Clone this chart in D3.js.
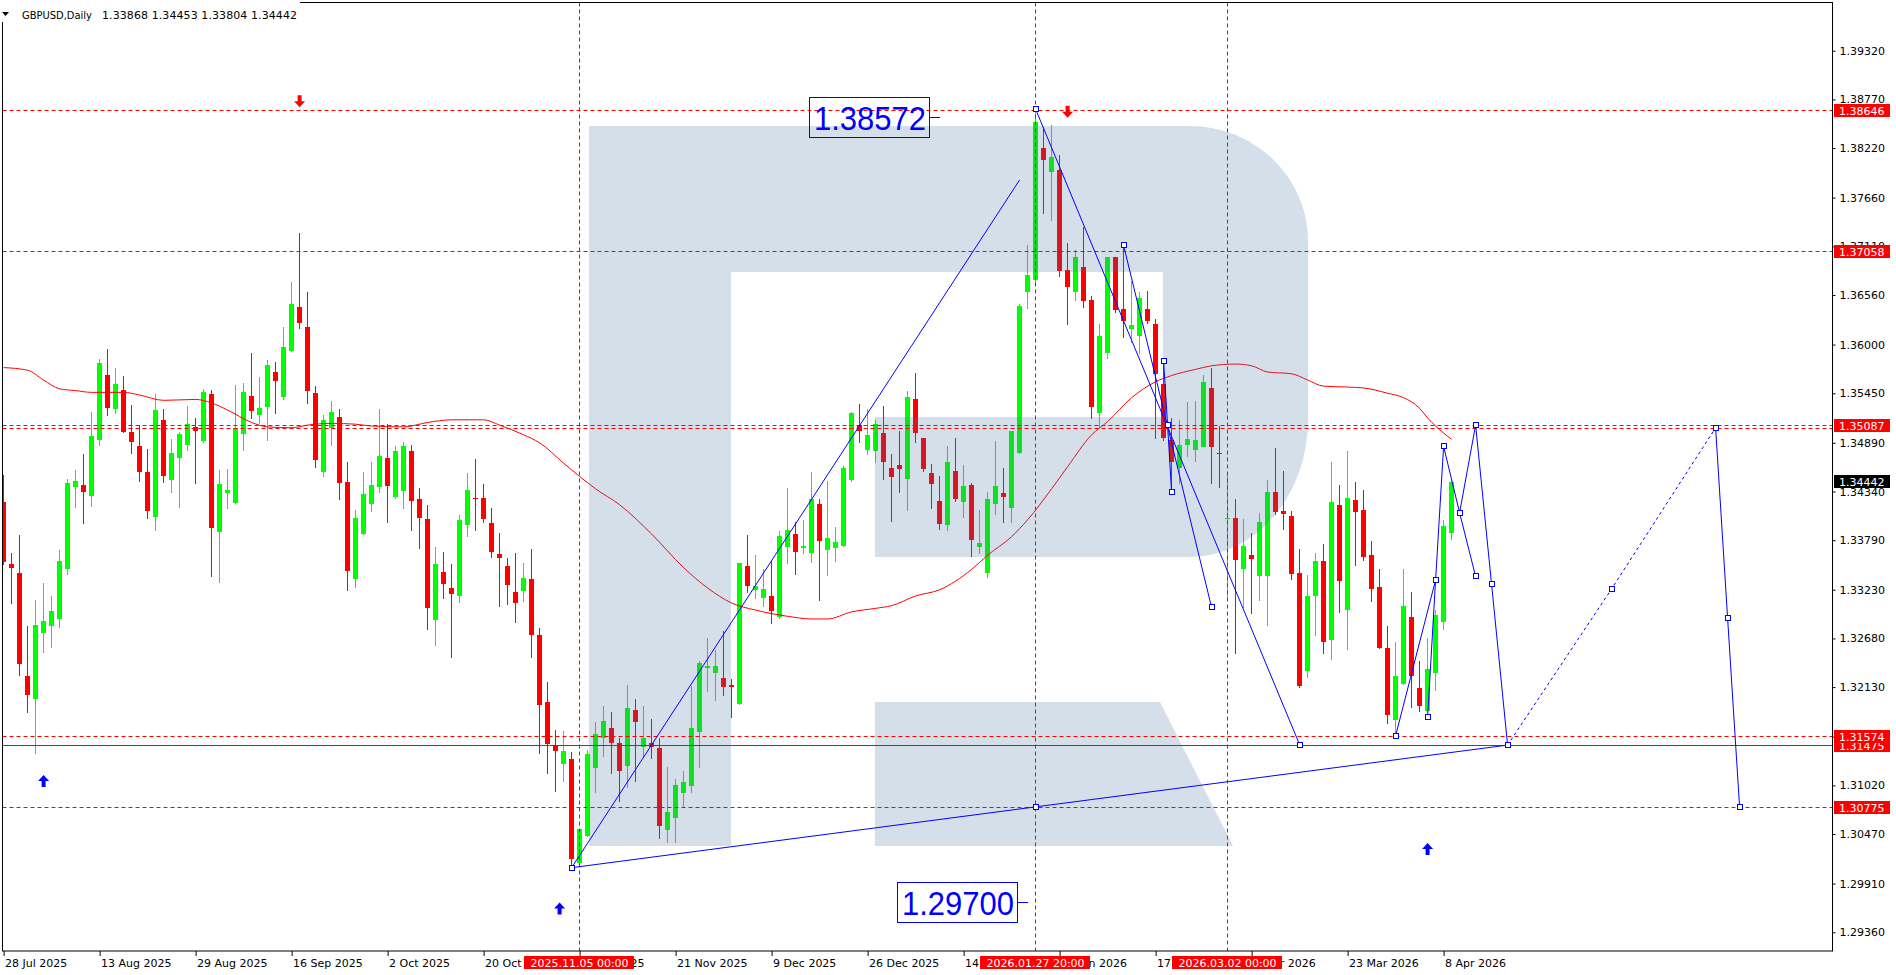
<!DOCTYPE html>
<html>
<head>
<meta charset="utf-8">
<script src="https://cdn.jsdelivr.net/npm/d3@7"></script>
<style>
  html, body { margin: 0; padding: 0; background: #fff; overflow: hidden; }
  svg text { font-family: "DejaVu Sans", sans-serif; font-size: 11px; }
</style>
</head>
<body>
<div id="chart"></div>
<script>
// GBPUSD daily candles, bar 0 = 28 Jul 2025 ... bar 181 = last bar
var open = [
  1.3422,1.3352,1.3342,1.3225,1.3199,1.3274,1.3282,1.3290,1.3347,1.3439,
  1.3441,1.3429,1.3492,1.3566,1.3528,1.3549,1.3501,1.3485,1.3456,1.3405,
  1.3515,1.3447,1.3472,1.3486,1.3507,1.3491,1.3544,1.3388,1.3433,1.3421,
  1.3498,1.3542,1.3520,1.3529,1.3569,1.3541,1.3593,1.3643,1.3620,1.3545,
  1.3456,1.3506,1.3518,1.3445,1.3335,1.3386,1.3420,1.3439,1.3472,1.3428,
  1.3434,1.3480,1.3425,1.3403,1.3289,1.3343,1.3325,1.3316,1.3396,1.3427,
  1.3427,1.3398,1.3363,1.3350,1.3320,1.3321,1.3335,1.3272,1.3196,1.3147,
  1.3126,1.3132,1.3015,1.3045,1.3122,1.3156,1.3167,1.3150,1.3124,1.3187,
  1.3146,1.3150,1.3144,1.3052,1.3065,1.3094,1.3102,1.3162,1.3235,1.3229,
  1.3223,1.3215,1.3194,1.3350,1.3322,1.3314,1.3316,1.3292,1.3372,1.3386,
  1.3370,1.3365,1.3420,1.3369,1.3370,1.3372,1.3447,1.3509,1.3481,1.3480,
  1.3500,1.3460,1.3464,1.3448,1.3539,1.3494,1.3455,1.3423,1.3396,1.3457,
  1.3422,1.3441,1.3371,1.3341,1.3420,1.3432,1.3415,1.3478,1.3660,1.3673,
  1.3822,1.3795,1.3797,1.3684,1.3660,1.3688,1.3650,1.3523,1.3590,1.3699,
  1.3640,1.3617,1.3610,1.3640,1.3623,1.3555,1.3492,1.3460,1.3486,1.3481,
  1.3485,1.3551,1.3477,1.3403,1.3404,1.3346,1.3362,1.3338,1.3338,1.3434,
  1.3412,1.3406,1.3342,1.3231,1.3317,1.3356,1.3266,1.3419,1.3300,1.3424,
  1.3413,1.3362,1.3326,1.3257,1.3175,1.3217,1.3292,1.3212,1.3187,1.3229,
  1.3287,1.33868
];
var high = [
  1.3453,1.3364,1.3385,1.3282,1.3311,1.3331,1.3316,1.3368,1.3448,1.3458,
  1.3476,1.3524,1.3584,1.3595,1.3574,1.3564,1.3532,1.3509,1.3482,1.3544,
  1.3527,1.3493,1.3501,1.3531,1.3517,1.3550,1.3549,1.3458,1.3459,1.3554,
  1.3557,1.3591,1.3563,1.3582,1.3580,1.3620,1.3671,1.3726,1.3659,1.3553,
  1.3520,1.3536,1.3527,1.3467,1.3413,1.3456,1.3467,1.3527,1.3510,1.3485,
  1.3490,1.3486,1.3438,1.3419,1.3371,1.3366,1.3352,1.3407,1.3455,1.3471,
  1.3442,1.3415,1.3387,1.3359,1.3364,1.3353,1.3369,1.3280,1.3219,1.3164,
  1.3163,1.3140,1.3053,1.3142,1.3174,1.3192,1.3185,1.3155,1.3215,1.3200,
  1.3192,1.3177,1.3155,1.3123,1.3109,1.3118,1.3214,1.3243,1.3269,1.3255,
  1.3276,1.3222,1.3353,1.3385,1.3362,1.3346,1.3356,1.3389,1.3438,1.3399,
  1.3402,1.3456,1.3426,1.3446,1.3394,1.3463,1.3524,1.3533,1.3527,1.3515,
  1.3531,1.3476,1.3502,1.3548,1.3568,1.3494,1.3465,1.3451,1.3485,1.3494,
  1.3464,1.3444,1.3413,1.3434,1.3491,1.3460,1.3502,1.3646,1.3713,1.3866,
  1.3846,1.3848,1.3814,1.3715,1.3707,1.3733,1.3655,1.3623,1.3699,1.3699,
  1.3711,1.3672,1.3659,1.3661,1.3629,1.3582,1.3517,1.3515,1.3535,1.3536,
  1.3566,1.3574,1.3508,1.3456,1.3425,1.3403,1.3387,1.3410,1.3447,1.3483,
  1.3457,1.3412,1.3369,1.3340,1.3365,1.3375,1.3467,1.3441,1.3480,1.3445,
  1.3436,1.3378,1.3347,1.3282,1.3264,1.3346,1.3320,1.3242,1.3268,1.3300,
  1.3402,1.34453
];
var low = [
  1.3352,1.3308,1.3227,1.3185,1.3139,1.3253,1.3258,1.3281,1.3341,1.3417,
  1.3398,1.3418,1.3487,1.3520,1.3523,1.3501,1.3477,1.3446,1.3404,1.3390,
  1.3445,1.3433,1.3416,1.3481,1.3444,1.3490,1.3339,1.3332,1.3415,1.3421,
  1.3481,1.3517,1.3511,1.3492,1.3523,1.3538,1.3593,1.3619,1.3534,1.3462,
  1.3451,1.3486,1.3426,1.3323,1.3326,1.3386,1.3412,1.3433,1.3399,1.3427,
  1.3415,1.3390,1.3370,1.3279,1.3261,1.3314,1.3247,1.3309,1.3384,1.3390,
  1.3399,1.3360,1.3305,1.3307,1.3287,1.3310,1.3247,1.3139,1.3116,1.3096,
  1.3107,1.3009,1.3014,1.3045,1.3094,1.3135,1.3116,1.3084,1.3100,1.3107,
  1.3134,1.3133,1.3043,1.3038,1.3038,1.3079,1.3095,1.3123,1.3209,1.3199,
  1.3204,1.3179,1.3194,1.3321,1.3314,1.3305,1.3286,1.3291,1.3353,1.3341,
  1.3364,1.3354,1.3311,1.3340,1.3356,1.3372,1.3446,1.3490,1.3476,1.3467,
  1.3448,1.3401,1.3434,1.3413,1.3490,1.3457,1.3415,1.3392,1.3390,1.3423,
  1.3405,1.3361,1.3365,1.3337,1.3409,1.3400,1.3399,1.3478,1.3641,1.3667,
  1.3749,1.3741,1.3677,1.3623,1.3650,1.3642,1.3517,1.3507,1.3585,1.3637,
  1.3609,1.3603,1.3590,1.3624,1.3494,1.3492,1.3433,1.3444,1.3474,1.3469,
  1.3485,1.3444,1.3439,1.3315,1.3252,1.3304,1.3297,1.3311,1.3283,1.3409,
  1.3392,1.3335,1.3213,1.3224,1.3272,1.3252,1.3245,1.3298,1.3256,1.3351,
  1.3357,1.3310,1.3257,1.3173,1.3159,1.3217,1.3191,1.3186,1.3186,1.3210,
  1.3279,1.33804
];
var close = [
  1.3354,1.3348,1.3239,1.3204,1.3283,1.3288,1.3299,1.3355,1.3444,1.3446,
  1.3433,1.3497,1.3579,1.3529,1.3556,1.3501,1.3490,1.3456,1.3412,1.3526,
  1.3452,1.3477,1.3499,1.3510,1.3502,1.3546,1.3393,1.3442,1.3436,1.3506,
  1.3546,1.3525,1.3528,1.3577,1.3559,1.3597,1.3646,1.3625,1.3548,1.3469,
  1.3515,1.3524,1.3444,1.3344,1.3404,1.3431,1.3441,1.3474,1.3440,1.3480,
  1.3485,1.3424,1.3403,1.3303,1.3352,1.3330,1.3318,1.3402,1.3436,1.3426,
  1.3403,1.3365,1.3358,1.3328,1.3308,1.3336,1.3272,1.3193,1.3149,1.3141,
  1.3141,1.3019,1.3053,1.3138,1.3160,1.3175,1.3150,1.3118,1.3189,1.3174,
  1.3156,1.3146,1.3056,1.3072,1.3102,1.3106,1.3167,1.3240,1.3237,1.3237,
  1.3213,1.3213,1.3353,1.3327,1.3327,1.3324,1.3299,1.3384,1.3391,1.3366,
  1.3372,1.3426,1.3378,1.3382,1.3377,1.3460,1.3523,1.3502,1.3498,1.3510,
  1.3467,1.3450,1.3460,1.3541,1.3501,1.3459,1.3443,1.3397,1.3467,1.3425,
  1.3440,1.3379,1.3376,1.3425,1.3440,1.3428,1.3502,1.3644,1.3679,1.3852,
  1.3809,1.3812,1.3683,1.3665,1.3699,1.3650,1.3529,1.3610,1.3699,1.3639,
  1.3626,1.3622,1.3653,1.3626,1.3567,1.3494,1.3467,1.3486,1.3493,1.3492,
  1.3558,1.3484,1.3476,1.3404,1.3356,1.3372,1.3358,1.3399,1.3433,1.3411,
  1.3409,1.3341,1.3214,1.3316,1.3356,1.3265,1.3422,1.3333,1.3427,1.3411,
  1.3360,1.3324,1.3257,1.3181,1.3225,1.3305,1.3225,1.3192,1.3234,1.3294,
  1.3395,1.34442
];

// moving average at these bars
var maBar = [0,3,5,7,9,11,15,17,20,24,26,28,31,33,36,38,41,44,46,50,53,56,60,62,65,67,70,72,74,77,
  81,85,88,91,94,98,101,103,106,109,111,114,117,121,123,126,128,131,133,136,138,141,144,146,149,
  151,154,156,158,161,163,165,168,170,173,175,177,178,179,180,181];
var maVal = [1.3574,1.3571,1.3560,1.3550,1.3548,1.3546,1.3546,1.3543,1.3537,1.3538,1.3534,1.3526,1.3512,1.3507,1.3506,
  1.3509,1.3511,1.3510,1.3508,1.3507,1.3512,1.3515,1.3515,1.3509,1.3498,1.3489,1.3466,1.3451,1.3437,1.3419,
  1.3386,1.3348,1.3325,1.3308,1.3300,1.3293,1.3290,1.3290,1.3298,1.3302,1.3305,1.3316,1.3323,1.3346,1.3362,
  1.3383,1.3402,1.3437,1.3462,1.3498,1.3513,1.3540,1.3558,1.3565,1.3572,1.3576,1.3578,1.3576,1.3569,1.3567,
  1.3560,1.3553,1.3552,1.3551,1.3545,1.3540,1.3528,1.3517,1.3508,1.3500,1.3493];

// time axis
var timeTickBars = [0,12,24,36,48,60,72,84,96,108,120,132,144,156,168,180];
var timeTickLabels = ["28 Jul 2025","13 Aug 2025","29 Aug 2025","16 Sep 2025","2 Oct 2025","20 Oct 2025",
  "5 Nov 2025","21 Nov 2025","9 Dec 2025","26 Dec 2025","14 Jan 2026","30 Jan 2026","17 Feb 2026",
  "5 Mar 2026","23 Mar 2026","8 Apr 2026"];

// price axis
var priceTicks = [1.39320,1.38770,1.38220,1.37660,1.37110,1.36560,1.36000,1.35450,1.34890,1.34340,
  1.33790,1.33230,1.32680,1.32130,1.31570,1.31020,1.30470,1.29910,1.29360];

// horizontal levels
var dottedLevels = [1.38646, 1.37058, 1.35087, 1.35057, 1.31574, 1.30775];
var solidLevels = [1.31475];
var levelLabels = [1.38646, 1.37058, 1.35087, 1.31475, 1.31574, 1.30775];
var lastPrice = 1.34442;

// vertical lines
var vlineBars = [72, 129, 153];
var vlineLabels = ["2025.11.05 00:00", "2026.01.27 20:00", "2026.03.02 00:00"];

// forecast lines [bar, price]
var trend1 = [[71, 1.3009], [127, 1.3786]];
var trend2 = [[71, 1.3009], [129, 1.30777], [188, 1.31475]];
var trend3 = [[129, 1.3866], [162, 1.3148]];
var trend4 = [[140, 1.3712], [151, 1.3303]];
var trend5 = [[145, 1.3581], [145.5, 1.3509], [146, 1.3433]];
var trend6 = [[174, 1.3158], [179, 1.3334], [180, 1.3485], [182, 1.3410], [184, 1.3338]];
var trend7 = [[178, 1.3179], [179, 1.3334]];
var trend8 = [[182, 1.3410], [184, 1.3509], [186, 1.3329], [188, 1.31475]];
var trend9 = [[188, 1.31475], [201, 1.3324], [214, 1.3506]];
var trend10 = [[214, 1.3506], [215.5, 1.3291], [217, 1.30775]];

// arrows [bar, price]
var downArrows = [[37, 1.3875], [133, 1.3863]];
var upArrows = [[5, 1.3107], [69.5, 1.2963], [178, 1.3030]];

// price tags [anchor bar, price, text]
var priceTags = [[117, 1.38572, "1.38572"], [128, 1.29700, "1.29700"]];

var header = "GBPUSD,Daily";
var headerValues = "1.33868 1.34453 1.33804 1.34442";

var width = 1896, height = 975;
var plotL = 2.5, plotR = 1832.5, plotT = 2.5, plotB = 951;

var x = d3.scaleLinear().domain([0, 1]).range([3.6, 11.6]);
var y = d3.scaleLinear().domain([1.29360, 1.39320]).range([932.3, 50.7]);

var bull = "#00ff00", bear = "#ff0000", blue = "#0000ff";

var svg = d3.select("#chart").append("svg")
  .attr("width", width)
  .attr("height", height)
  .style("display", "block");

svg.append("defs").append("clipPath").attr("id", "plotclip")
  .append("rect")
  .attr("x", plotL).attr("y", plotT)
  .attr("width", plotR - plotL).attr("height", plotB - plotT);

var plot = svg.append("g").attr("clip-path", "url(#plotclip)");

// candles
var candle = plot.append("g").selectAll("g")
  .data(d3.range(close.length))
  .enter().append("g");

candle.append("line")
  .attr("x1", function(i) { return Math.floor(x(i)) + 0.5; })
  .attr("x2", function(i) { return Math.floor(x(i)) + 0.5; })
  .attr("y1", function(i) { return Math.round(y(high[i])); })
  .attr("y2", function(i) { return Math.round(y(low[i])) + 1; })
  .attr("stroke", function(i) { return close[i] >= open[i] ? bull : bear; });

candle.append("rect")
  .attr("x", function(i) { return Math.floor(x(i)) - 2; })
  .attr("width", 5)
  .attr("y", function(i) { return Math.round(y(Math.max(open[i], close[i]))); })
  .attr("height", function(i) { return Math.max(1, Math.round(Math.abs(y(open[i]) - y(close[i])))); })
  .attr("fill", function(i) { return close[i] >= open[i] ? bull : bear; });

// moving average
plot.append("path")
  .datum(d3.range(maBar.length))
  .attr("fill", "none")
  .attr("stroke", "#ff0000")
  .attr("stroke-width", 1)
  .attr("d", d3.line()
    .x(function(k) { return x(maBar[k]); })
    .y(function(k) { return y(maVal[k]); })
    .curve(d3.curveMonotoneX));

// watermark logo, drawn over the candles with some transparency
var logo = plot.append("g").attr("fill", "rgb(62,112,161)").attr("fill-opacity", 0.224);
logo.append("path")
  .attr("d", "M589,126 H1190 A118,115 0 0 1 1308,241 V420 A118,137 0 0 1 1190,557 H875 V417 H1163 V272 H731 V846 H589 Z");
logo.append("path")
  .attr("d", "M875,702 H1160 L1233,846 H875 Z");

// horizontal levels
plot.selectAll("line.dl")
  .data(dottedLevels)
  .enter().append("line")
  .attr("x1", plotL).attr("x2", plotR)
  .attr("y1", function(d) { return Math.round(y(d)) + 0.5; })
  .attr("y2", function(d) { return Math.round(y(d)) + 0.5; })
  .attr("stroke", "#ff0000")
  .attr("stroke-dasharray", "4,3");

plot.selectAll("line.sl")
  .data(solidLevels)
  .enter().append("line")
  .attr("x1", plotL).attr("x2", plotR)
  .attr("y1", function(d) { return Math.round(y(d)) + 0.5; })
  .attr("y2", function(d) { return Math.round(y(d)) + 0.5; })
  .attr("stroke", "#ff0000");

// vertical lines
plot.selectAll("line.vl")
  .data(vlineBars)
  .enter().append("line")
  .attr("x1", function(d) { return Math.floor(x(d)) + 0.5; })
  .attr("x2", function(d) { return Math.floor(x(d)) + 0.5; })
  .attr("y1", plotT).attr("y2", plotB)
  .attr("stroke", "#ff0000")
  .attr("stroke-dasharray", "4,3");

// forecast lines
var pline = d3.line()
  .x(function(p) { return x(p[0]); })
  .y(function(p) { return y(p[1]); });

var trends = [trend1, trend2, trend3, trend4, trend5, trend6, trend7, trend8, trend9, trend10];
var dashed = [false, false, false, false, false, false, false, false, true, false];

trends.forEach(function(t, k) {
  plot.append("path")
    .attr("d", pline(t))
    .attr("fill", "none")
    .attr("stroke", blue)
    .attr("stroke-width", 1)
    .attr("stroke-dasharray", dashed[k] ? "3,3" : null);
});

// anchor squares (trend1 has none at its upper end)
var squarePts = [];
trends.forEach(function(t, k) {
  t.forEach(function(p, j) {
    if (k === 0 && j === 1) return;
    squarePts.push(p);
  });
});
plot.selectAll("rect.sq")
  .data(squarePts)
  .enter().append("rect")
  .attr("x", function(p) { return Math.round(x(p[0])) - 2.5; })
  .attr("y", function(p) { return Math.round(y(p[1])) - 2.5; })
  .attr("width", 5).attr("height", 5)
  .attr("fill", "#fff")
  .attr("stroke", blue);

// arrows
function arrowPath(cx, cy, dir) {
  // dir = 1 points down, -1 points up
  var s = dir;
  return "M" + (cx - 2) + "," + (cy - 6 * s) +
    " L" + (cx + 2) + "," + (cy - 6 * s) +
    " L" + (cx + 2) + "," + (cy) +
    " L" + (cx + 5.5) + "," + (cy) +
    " L" + cx + "," + (cy + 6 * s) +
    " L" + (cx - 5.5) + "," + (cy) +
    " L" + (cx - 2) + "," + (cy) + " Z";
}
plot.selectAll("path.da")
  .data(downArrows)
  .enter().append("path")
  .attr("d", function(a) { return arrowPath(x(a[0]), y(a[1]), 1); })
  .attr("fill", "#ff0000");
plot.selectAll("path.ua")
  .data(upArrows)
  .enter().append("path")
  .attr("d", function(a) { return arrowPath(x(a[0]), y(a[1]), -1); })
  .attr("fill", blue);

// price tags
var tag = plot.selectAll("g.tag")
  .data(priceTags)
  .enter().append("g");
tag.append("rect")
  .attr("x", function(t) { return Math.round(x(t[0])) - 130.5; })
  .attr("y", function(t) { return Math.round(y(t[1])) - 19.5; })
  .attr("width", 120).attr("height", 40)
  .attr("fill", "none")
  .attr("stroke", blue);
tag.append("line")
  .attr("x1", function(t) { return Math.round(x(t[0])) - 10; })
  .attr("x2", function(t) { return Math.round(x(t[0])); })
  .attr("y1", function(t) { return Math.round(y(t[1])) + 0.5; })
  .attr("y2", function(t) { return Math.round(y(t[1])) + 0.5; })
  .attr("stroke", blue);
tag.append("text")
  .attr("x", function(t) { return Math.round(x(t[0])) - 126; })
  .attr("y", function(t) { return Math.round(y(t[1])) + 13; })
  .attr("textLength", 112)
  .attr("lengthAdjust", "spacingAndGlyphs")
  .style("font-family", "'Liberation Sans', Arial, sans-serif")
  .style("font-size", "34px")
  .attr("fill", blue)
  .text(function(t) { return t[2]; });

// frame
svg.append("rect")
  .attr("x", plotL).attr("y", plotT)
  .attr("width", plotR - plotL).attr("height", plotB - plotT)
  .attr("fill", "none")
  .attr("stroke", "#000");

// price axis
var yAxis = d3.axisRight(y)
  .tickValues(priceTicks)
  .tickSize(3)
  .tickPadding(4)
  .tickFormat(d3.format(".5f"));
var yg = svg.append("g")
  .attr("transform", "translate(" + plotR + ",0)")
  .call(yAxis);
yg.select(".domain").remove();
yg.selectAll("text").attr("fill", "#000").style("font-family", "'DejaVu Sans', sans-serif").style("font-size", "11px");
yg.selectAll("line").attr("stroke", "#000");

// level tags on the price axis
var lt = svg.selectAll("g.lt")
  .data(levelLabels)
  .enter().append("g");
lt.append("rect")
  .attr("x", 1834).attr("width", 56)
  .attr("y", function(d) { return Math.round(y(d)) - 6; })
  .attr("height", 13)
  .attr("fill", "#ff0000");
lt.append("text")
  .attr("x", 1839)
  .attr("y", function(d) { return Math.round(y(d)) + 4.5; })
  .attr("fill", "#fff")
  .text(function(d) { return d.toFixed(5); });

svg.append("rect")
  .attr("x", 1834).attr("width", 56)
  .attr("y", Math.round(y(lastPrice)) - 7)
  .attr("height", 13)
  .attr("fill", "#000");
svg.append("text")
  .attr("x", 1839)
  .attr("y", Math.round(y(lastPrice)) + 3.5)
  .attr("fill", "#fff")
  .text(lastPrice.toFixed(5));

// time axis
var xAxis = d3.axisBottom(x)
  .tickValues(timeTickBars)
  .tickSize(5)
  .tickPadding(3)
  .tickFormat(function(d, i) { return timeTickLabels[i]; });
var xg = svg.append("g")
  .attr("transform", "translate(0," + plotB + ")")
  .call(xAxis);
xg.select(".domain").remove();
xg.selectAll("line").attr("stroke", "#000");
xg.selectAll("text")
  .attr("text-anchor", "start")
  .attr("x", 1)
  .attr("fill", "#000")
  .style("font-family", "'DejaVu Sans', sans-serif")
  .style("font-size", "11px");

// vertical line time tags
var vt = svg.selectAll("g.vt")
  .data(vlineBars)
  .enter().append("g");
vt.append("rect")
  .attr("x", function(d) { return Math.floor(x(d)) - 55; })
  .attr("y", 956)
  .attr("width", 110).attr("height", 13)
  .attr("fill", "#ff0000");
vt.append("text")
  .attr("x", function(d) { return Math.floor(x(d)) + 0.5; })
  .attr("y", 966.5)
  .attr("text-anchor", "middle")
  .attr("fill", "#fff")
  .text(function(d, i) { return vlineLabels[i]; });

// header
svg.append("rect").attr("x", 0).attr("y", 0).attr("width", 300).attr("height", 22).attr("fill", "#fff");
svg.append("path").attr("d", "M2,12 L9,12 L5.5,16 Z").attr("fill", "#000");
svg.append("text")
  .attr("x", 22).attr("y", 18.5)
  .attr("textLength", 70)
  .attr("lengthAdjust", "spacingAndGlyphs")
  .attr("fill", "#000")
  .text(header);
svg.append("text")
  .attr("x", 102).attr("y", 18.5)
  .attr("textLength", 195)
  .attr("fill", "#000")
  .text(headerValues);
</script>
</body>
</html>
